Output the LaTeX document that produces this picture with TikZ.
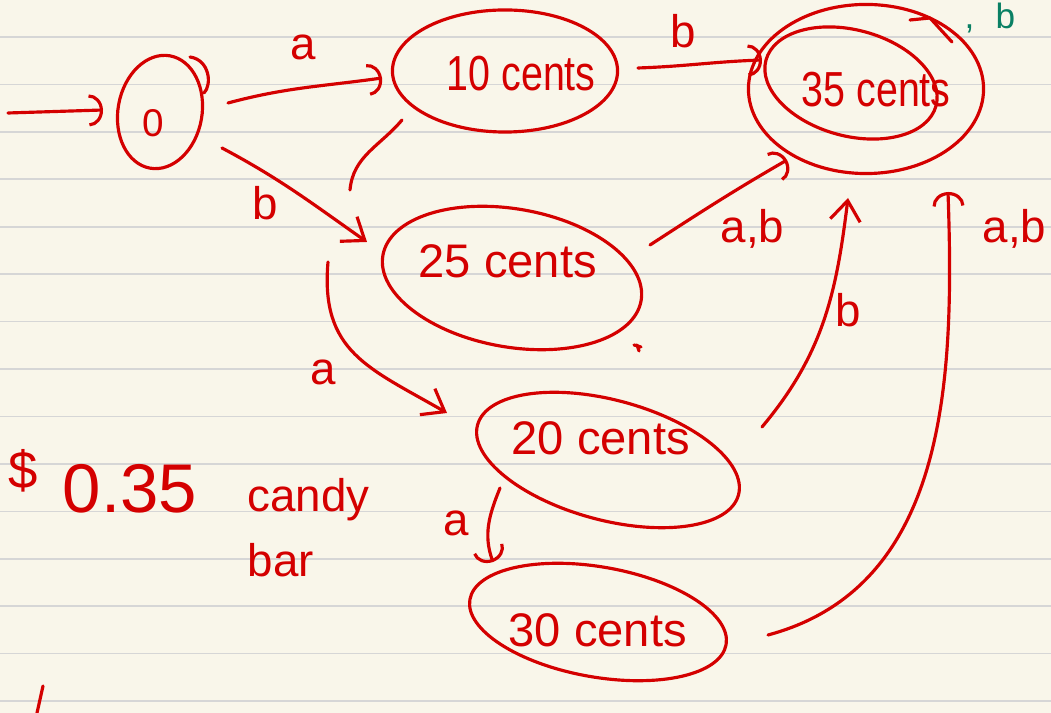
\documentclass[tikz,border=0pt]{standalone}
\usepackage{fontspec}
\setmainfont{Liberation Sans}
\newfontfamily\narrowfont[FakeStretch=0.8]{Liberation Sans}
\usetikzlibrary{arrows.meta,shapes.geometric}
\definecolor{paper}{RGB}{249,246,234}
\definecolor{rulegray}{RGB}{214,214,214}
\definecolor{ink}{RGB}{212,0,0}
\definecolor{inkgreen}{RGB}{10,128,100}
\begin{document}
\begin{tikzpicture}[x=0.01cm,y=-0.01cm,
  pen/.style={draw=ink, line width=0.9pt, line cap=round, line join=round},
  st/.style={pen, ellipse, inner sep=0pt},
  arcedge/.style={pen, -{Arc Barb[width=3.2mm,length=1.4mm]}},
  vedge/.style={pen, -{Straight Barb[width=3mm,length=2mm]}},
  lab/.style={text=ink, font=\fontsize{13}{13}\selectfont, anchor=base west, inner sep=0pt},
  stxt/.style={text=ink, anchor=base west, inner sep=0pt},
  bigtxt/.style={stxt, font=\fontsize{13.4}{14}\selectfont},
  nartxt/.style={stxt, font=\narrowfont\fontsize{14}{14}\selectfont}]
\fill[paper] (0,0) rectangle (1051,713);
\useasboundingbox (0,0) rectangle (1051,713);
\clip (0,0) rectangle (1051,713);
\foreach \k in {0,...,14} \draw[rulegray, line width=0.45pt] (0,{37+47.43*\k}) -- (1051,{37+47.43*\k});

% states
\node[st, minimum width=0.84cm, minimum height=1.14cm, rotate=-10] (n0) at (160,112) {};
\node[stxt, font=\fontsize{11}{11}\selectfont] (t0) at (142,137) {0};
\node[st, minimum width=2.25cm, minimum height=1.22cm] (n10) at (505,71) {};
\node[nartxt] (t10) at (446,91) {10 cents};
\node[st, minimum width=2.35cm, minimum height=1.69cm] (n35) at (866,89) {};
\node[st, minimum width=1.76cm, minimum height=1.06cm, rotate=-15] (n35in) at (851,83) {};
\node[nartxt] (t35) at (801,107) {35 cents};
\node[st, minimum width=2.62cm, minimum height=1.38cm, rotate=-10] (n25) at (512,278) {};
\node[bigtxt] (t25) at (418,278) {25 cents};
\node[st, minimum width=2.70cm, minimum height=1.20cm, rotate=-15] (n20) at (608,460) {};
\node[bigtxt] (t20) at (511,455) {20 cents};
\node[st, minimum width=2.60cm, minimum height=1.10cm, rotate=-10] (n30) at (598,622) {};
\node[bigtxt] (t30) at (508,647) {30 cents};

% connectors
\coordinate (start) at (8,113);
\draw[arcedge] (start) -- ([shift={(-57,-2)}]n0.center);
\draw[arcedge] ([shift={(68,-9)}]n0.center) to[out=15,in=188] ([shift={(-123,7)}]n10.center);
\node[lab] (la1) at (290,60) {a};
\draw[arcedge] ([shift={(133,-3)}]n10.center) to[out=2,in=182] ([shift={(-104,-29)}]n35.center);
\node[lab] (la2) at (670,48) {b};
\draw[vedge] ([shift={(62,36)}]n0.center) to[out=-28,in=145] ([shift={(-145,-36)}]n25.center);
\node[lab] (la3) at (252,220) {b};
\draw[pen] ([shift={(-103,49)}]n10.center) to[out=-130,in=85] ([shift={(-162,-88)}]n25.center);
\draw[arcedge] ([shift={(138,-33)}]n25.center) to[out=33,in=210] ([shift={(-79,71)}]n35.center);
\node[lab] (la4) at (720,243) {a,b};
\draw[vedge] ([shift={(-184,-16)}]n25.center) to[out=-95,in=150,looseness=1.2] ([shift={(-161,-47)}]n20.center);
\node[lab] (la5) at (310,385) {a};
\draw[vedge] ([shift={(154,-33)}]n20.center) to[out=50,in=-97] ([shift={(-18,109)}]n35.center);
\node[lab] (la6) at (835,327) {b};
\draw[arcedge] ([shift={(-108,28)}]n20.center) to[out=-112,in=110] ([shift={(-105,-60)}]n30.center);
\node[lab] (la7) at (443,536) {a};
\draw[arcedge] ([shift={(170,13)}]n30.center) to[out=15,in=-88] ([shift={(82,103)}]n35.center);
\node[lab] (la8) at (982,243) {a,b};

% extra pen marks
\draw[pen] (190,57) .. controls (210,60) and (212,85) .. (204,93);
\draw[pen] (910,20) -- (930,18) -- (952,42);
\draw[pen] (43,686) -- (37,713);
\draw[pen] (634,345) -- (641,347) (637,345) -- (639,351);
\node[stxt, text=inkgreen, font=\fontsize{10}{10}\selectfont] (gr) at (964,29) {,\hspace{6pt}b};

% note
\node[stxt, font=\fontsize{15}{15}\selectfont] (dol) at (8,489) {\$};
\node[stxt, font=\fontsize{19.6}{20}\selectfont] (price) at (62,513) {0.35};
\node[stxt, font=\fontsize{13}{13}\selectfont] (candy) at (247,512) {candy};
\node[stxt, font=\fontsize{13}{13}\selectfont] (bar) at (247,577) {bar};
\end{tikzpicture}
\end{document}
